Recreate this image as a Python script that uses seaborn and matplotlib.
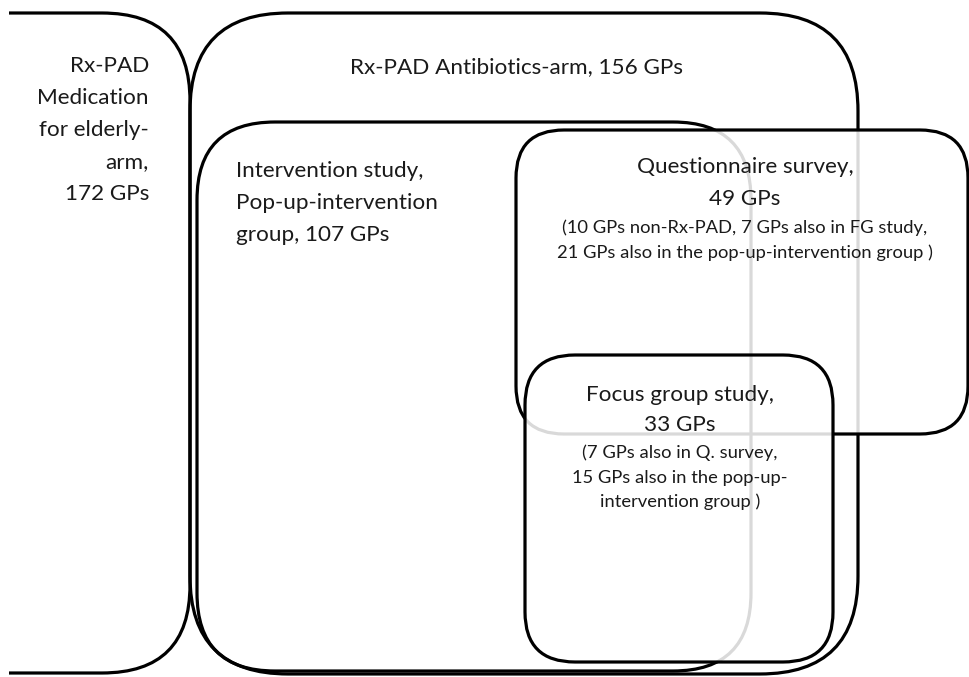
import matplotlib
matplotlib.use('Agg')
import matplotlib.pyplot as plt
import seaborn as sns
from matplotlib.patches import FancyBboxPatch, Rectangle

# boxes: name -> (left, top, right, bottom, corner radius), in pixel units
box_names = ['medication', 'antibiotics', 'intervention', 'questionnaire', 'focus']
box_left = [-300, 190, 197, 516, 525]
box_top = [13, 13, 122, 130, 355]
box_right = [190, 858, 751, 968, 833]
box_bottom = [673, 674, 671, 434, 662]
box_radius = [88, 98, 78, 48, 50]

# labels
med_lines = ['Rx-PAD', 'Medication', 'for elderly-', 'arm,', '172 GPs']
anti_label = 'Rx-PAD Antibiotics-arm, 156 GPs'
interv_lines = ['Intervention study,', 'Pop-up-intervention', 'group, 107 GPs']
quest_lines = ['Questionnaire survey,', '49 GPs']
quest_notes = ['(10 GPs non-Rx-PAD, 7 GPs also in FG study,',
               '21 GPs also in the pop-up-intervention group )']
focus_lines = ['Focus group study,', '33 GPs']
focus_notes = ['(7 GPs also in Q. survey,', '15 GPs also in the pop-up-',
               'intervention group )']

sns.set_theme(style='white')
plt.rcParams['font.family'] = ['Lato', 'DejaVu Sans']

W, H = 970, 677
fig = plt.figure(figsize=(W / 100, H / 100), dpi=100)
ax = fig.add_axes([0, 0, 1, 1])
ax.set_xlim(0, W)
ax.set_ylim(H, 0)
ax.axis('off')

LW = 2.3
GREY = '#d9d9d9'
INK = '#1a1a1a'


def make_box(i, **kw):
    x0, y0 = box_left[i], box_top[i]
    w = box_right[i] - x0
    h = box_bottom[i] - y0
    p = FancyBboxPatch((x0, y0), w, h,
                       boxstyle=f'round,pad=0,rounding_size={box_radius[i]}',
                       transform=ax.transData, **kw)
    return p


left_clip = Rectangle((9, -50), W, H + 100, transform=ax.transData)

# outer boxes in black
for i in range(3):
    p = ax.add_patch(make_box(i, fc='none', ec='black', lw=LW, zorder=1))
    if i == 0:
        p.set_clip_path(left_clip)

# questionnaire box hides what lies behind it
ax.add_patch(make_box(3, fc='white', ec='none', zorder=2))
for i in range(3):
    p = ax.add_patch(make_box(i, fc='none', ec=GREY, lw=LW, zorder=3))
    p.set_clip_path(make_box(3))
ax.add_patch(make_box(3, fc='none', ec='black', lw=LW, zorder=3))

# focus group box on top
ax.add_patch(make_box(4, fc='white', ec='none', zorder=4))
for i in range(4):
    p = ax.add_patch(make_box(i, fc='none', ec=GREY, lw=LW, zorder=5))
    p.set_clip_path(make_box(4))
ax.add_patch(make_box(4, fc='none', ec='black', lw=LW, zorder=6))

big = 16.2
small = 13.2

for k, s in enumerate(med_lines):
    ax.text(149, 66 + k * 32, s, ha='right', va='center', fontsize=big, color=INK, zorder=10)

ax.text(350, 67, anti_label, ha='left', va='center', fontsize=big, color=INK, zorder=10)

for k, s in enumerate(interv_lines):
    ax.text(236, 171 + k * 32, s, ha='left', va='center', fontsize=big, color=INK, zorder=10)

for k, s in enumerate(quest_lines):
    ax.text(745, 167 + k * 32, s, ha='center', va='center', fontsize=big, color=INK, zorder=10)
for k, s in enumerate(quest_notes):
    ax.text(745, 228 + k * 25, s, ha='center', va='center', fontsize=small, color=INK, zorder=10)

for k, s in enumerate(focus_lines):
    ax.text(680, 395 + k * 30, s, ha='center', va='center', fontsize=big, color=INK, zorder=10)
for k, s in enumerate(focus_notes):
    ax.text(680, 453 + k * 24.5, s, ha='center', va='center', fontsize=small, color=INK, zorder=10)

fig.savefig('out.png', dpi=100)
